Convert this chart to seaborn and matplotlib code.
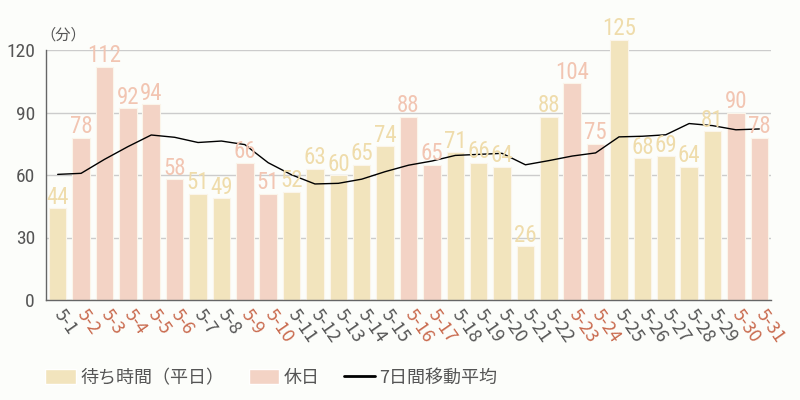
import matplotlib.pyplot as plt
import pandas as pd
import seaborn as sns
from matplotlib.lines import Line2D
from matplotlib.patches import Patch

days = [
    "5-1", "5-2", "5-3", "5-4", "5-5", "5-6", "5-7", "5-8", "5-9", "5-10",
    "5-11", "5-12", "5-13", "5-14", "5-15", "5-16", "5-17", "5-18", "5-19",
    "5-20", "5-21", "5-22", "5-23", "5-24", "5-25", "5-26", "5-27", "5-28",
    "5-29", "5-30", "5-31",
]
wait_minutes = [
    44, 78, 112, 92, 94, 58, 51, 49, 66, 51, 52, 63, 60, 65, 74, 88,
    65, 71, 66, 64, 26, 88, 104, 75, 125, 68, 69, 64, 81, 90, 78,
]
holidays = [
    "5-2", "5-3", "5-4", "5-5", "5-6", "5-9", "5-10", "5-16", "5-17",
    "5-23", "5-24", "5-30", "5-31",
]
moving_avg = [
    60.3, 60.8, 67.5, 73.6, 79.2, 78.1, 75.6, 76.3, 74.6, 65.9, 60.1,
    55.7, 56.0, 58.0, 61.6, 64.7, 66.7, 69.4, 69.9, 70.4, 64.9, 66.9,
    69.1, 70.6, 78.3, 78.6, 79.3, 84.7, 83.7, 81.7, 82.1,
]

WEEKDAY = "待ち時間（平日）"
HOLIDAY = "休日"
MA_LABEL = "7日間移動平均"

BG = "#fcfdfa"
BAR_COLORS = {WEEKDAY: "#f2e4bd", HOLIDAY: "#f3d3c5"}
VALUE_COLORS = {WEEKDAY: "#efdcab", HOLIDAY: "#f2c5b2"}
TICK_COLORS = {WEEKDAY: "#555555", HOLIDAY: "#c96a4e"}
GRAY = "#555555"
NARROW = ["Roboto Condensed", "DejaVu Sans"]

sns.set_theme(style="white")
plt.rcParams["font.family"] = ["Noto Sans CJK JP", "DejaVu Sans"]

df = pd.DataFrame({
    "day": days,
    "minutes": wait_minutes,
    "kind": [HOLIDAY if d in holidays else WEEKDAY for d in days],
})

fig = plt.figure(figsize=(8, 4), dpi=100, facecolor=BG)
ax = fig.add_axes([46 / 800, 100 / 400, 725 / 800, 250 / 400])
ax.set_facecolor(BG)

sns.barplot(
    data=df, x="day", y="minutes", hue="kind",
    hue_order=[WEEKDAY, HOLIDAY], palette=BAR_COLORS,
    dodge=False, width=0.75, legend=False, ax=ax,
    edgecolor="#fbf5ea", linewidth=0.8, saturation=1,
)
for patch in ax.patches:
    patch.set_clip_on(False)

sns.lineplot(x=list(range(len(days))), y=moving_avg, color="black",
             linewidth=1, ax=ax)

for i, row in df.iterrows():
    ax.annotate(
        str(row["minutes"]), (i, row["minutes"]),
        xytext=(0, -0.5), textcoords="offset points",
        ha="center", va="bottom", fontsize=16.5, fontstretch="condensed",
        family=NARROW,
        color=VALUE_COLORS[row["kind"]], annotation_clip=False,
    )

ax.set_xlim(-0.5, len(days) - 0.5)
ax.set_ylim(0, 120)
ax.set_yticks([0, 30, 60, 90, 120])
ax.yaxis.grid(True, color="#cccccc", linewidth=1)
ax.set_axisbelow(True)
ax.set_xlabel("")
ax.set_ylabel("")
for side in ["top", "right"]:
    ax.spines[side].set_visible(False)
for side in ["left", "bottom"]:
    ax.spines[side].set_color("#666666")
    ax.spines[side].set_linewidth(1)

ax.tick_params(axis="both", length=0)
ax.tick_params(axis="y", labelsize=14, labelcolor=GRAY, pad=8)
for lbl in ax.get_yticklabels():
    lbl.set_family(NARROW)
    lbl.set_fontstretch("condensed")

ax.set_xticks(range(len(days)))
ax.set_xticklabels(days, rotation=-55, ha="left", va="center",
                   rotation_mode="anchor", fontsize=13)
ax.tick_params(axis="x", pad=8)
for lbl, kind in zip(ax.get_xticklabels(), df["kind"]):
    lbl.set_color(TICK_COLORS[kind])

fig.text(40 / 800, 1 - 35 / 400, "（分）", fontsize=11, color=GRAY,
         va="center")

handles = [
    Patch(facecolor=BAR_COLORS[WEEKDAY]),
    Patch(facecolor=BAR_COLORS[HOLIDAY]),
    Line2D([], [], color="black", linewidth=2),
]
fig.legend(
    handles, [WEEKDAY, HOLIDAY, MA_LABEL],
    loc="center left", bbox_to_anchor=(45 / 800, 1 - 378 / 400),
    ncol=3, frameon=False, fontsize=13, labelcolor=GRAY,
    handlelength=1.7, handleheight=0.9, handletextpad=0.25,
    columnspacing=1.35, borderpad=0, borderaxespad=0,
)

fig.savefig("out.png", dpi=100, facecolor=BG)
